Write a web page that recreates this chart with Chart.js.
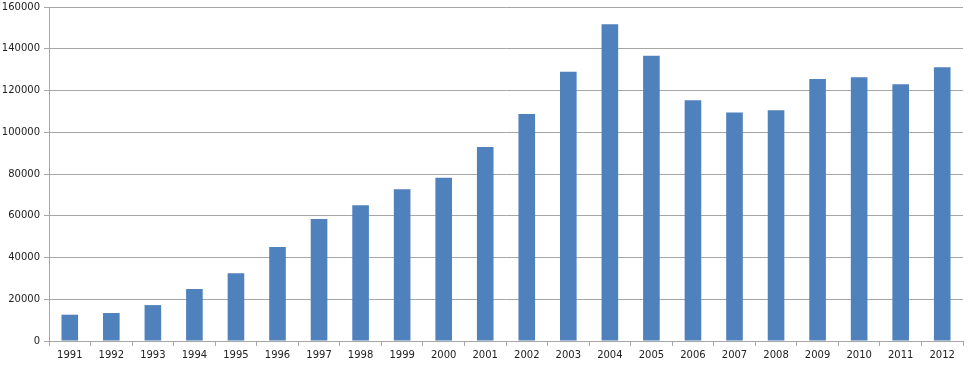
<!DOCTYPE html>
<html>
<head>
<meta charset="utf-8">
<script src="https://cdn.jsdelivr.net/npm/chart.js@4/dist/chart.umd.min.js"></script>
<style>
  html, body { margin: 0; padding: 0; background: #fff; }
  canvas { display: block; }
</style>
</head>
<body>
<canvas id="chart" width="978" height="366"></canvas>
<script>
// categories and values
const years = ["1991", "1992", "1993", "1994", "1995", "1996", "1997", "1998", "1999", "2000", "2001",
  "2002", "2003", "2004", "2005", "2006", "2007", "2008", "2009", "2010", "2011", "2012"];
const counts = [12600, 13400, 17200, 24900, 32400, 45000, 58400, 65000, 72700, 78200, 92900,
  108700, 129000, 151700, 136700, 115300, 109500, 110500, 125500, 126300, 123000, 131100];
const yTicks = [0, 20000, 40000, 60000, 80000, 100000, 120000, 140000, 160000];

const gridGray = "#a6a6a6";
const labelFont = { family: "DejaVu Sans", size: 10 };

new Chart(document.getElementById("chart"), {
  type: "bar",
  data: {
    labels: years,
    datasets: [{
      data: counts,
      backgroundColor: "#4f81bd",
      borderWidth: 0,
      barPercentage: 0.4,
      categoryPercentage: 1
    }]
  },
  options: {
    responsive: false,
    animation: false,
    layout: { padding: { top: 7, right: 15, left: 0, bottom: 0 } },
    plugins: { legend: { display: false }, tooltip: { enabled: false } },
    scales: {
      x: {
        grid: { offset: true, drawOnChartArea: false, color: gridGray, tickLength: 5 },
        border: { color: gridGray },
        ticks: { color: "#222", font: labelFont, maxRotation: 0, padding: 3 },
        afterFit: (s) => { s.height = 25; }
      },
      y: {
        min: 0,
        max: 160000,
        afterBuildTicks: (s) => { s.ticks = yTicks.map((v) => ({ value: v })); },
        grid: { color: gridGray, tickLength: 5 },
        border: { color: gridGray },
        ticks: { color: "#222", font: labelFont, padding: 4, callback: (v) => String(v) },
        afterFit: (s) => { s.width = 49; s.paddingTop = 0; s.paddingBottom = 0; }
      }
    }
  }
});
</script>
</body>
</html>
